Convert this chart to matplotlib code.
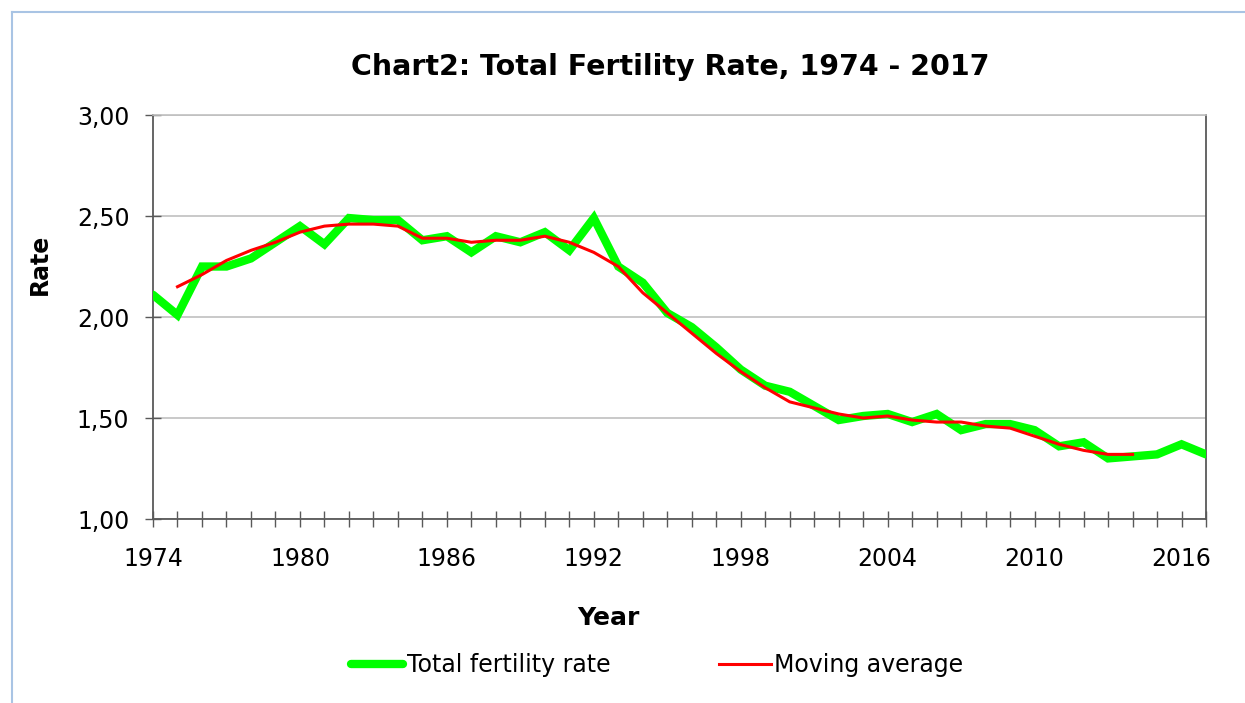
import matplotlib
matplotlib.use("Agg")
import matplotlib.pyplot as plt
from matplotlib.lines import Line2D
from matplotlib.ticker import FuncFormatter, MultipleLocator

# Datos
years = list(range(1974, 2018))
tfr = [2.11, 2.01, 2.25, 2.25, 2.29, 2.37, 2.45, 2.36, 2.49, 2.48,
       2.48, 2.38, 2.40, 2.32, 2.40, 2.37, 2.42, 2.33, 2.49, 2.25,
       2.17, 2.02, 1.95, 1.85, 1.74, 1.66, 1.63, 1.56, 1.49, 1.51,
       1.52, 1.48, 1.52, 1.44, 1.47, 1.47, 1.44, 1.36, 1.38, 1.30,
       1.31, 1.32, 1.37, 1.32]
ma_years = list(range(1975, 2015))
moving_avg = [2.15, 2.21, 2.28, 2.33, 2.37, 2.42, 2.45, 2.46, 2.46, 2.45,
              2.39, 2.39, 2.37, 2.38, 2.38, 2.40, 2.37, 2.32, 2.25, 2.12,
              2.02, 1.92, 1.82, 1.73, 1.65, 1.58, 1.55, 1.52, 1.50, 1.51,
              1.49, 1.48, 1.48, 1.46, 1.45, 1.41, 1.37, 1.34, 1.32, 1.32]
label_years = list(range(1974, 2018, 6))

fig = plt.figure(figsize=(12.45, 7.03), dpi=100)
ax = fig.add_axes([0.1229, 0.2617, 0.9687 - 0.1229, 0.8364 - 0.2617])

ax.plot(years, tfr, color="#00ff00", lw=6, solid_capstyle="round",
        solid_joinstyle="miter", label="Total fertility rate", zorder=3)
ax.plot(ma_years, moving_avg, color="#ff0000", lw=2.2,
        label="Moving average", zorder=4)

ax.set_xlim(1974, 2017)
ax.set_ylim(1.0, 3.0)
ax.yaxis.set_major_locator(MultipleLocator(0.5))
ax.yaxis.set_major_formatter(FuncFormatter(lambda v, p: f"{v:.2f}".replace(".", ",")))
ax.set_xticks(label_years)
ax.set_xticks(years, minor=True)
ax.grid(axis="y", color="#c0c0c0", lw=1.2, zorder=0)
ax.set_axisbelow(True)

for s in ["left", "bottom", "right"]:
    ax.spines[s].set_color("#595959")
    ax.spines[s].set_linewidth(1.3)
ax.spines["top"].set_color("#c0c0c0")
ax.spines["top"].set_linewidth(1.2)

ax.tick_params(axis="y", direction="inout", length=12, width=1, color="#595959",
               labelsize=17, pad=11)
ax.tick_params(axis="x", which="both", direction="inout", length=12, width=1,
               color="#595959", labelsize=17, pad=14)

ax.set_ylabel("Rate", fontsize=17, fontweight="bold")
ax.yaxis.set_label_coords(-0.096, 0.63)
ax.set_xlabel("Year", fontsize=18, fontweight="bold")
ax.xaxis.set_label_coords(0.432, -0.215)
ax.set_title("Chart2: Total Fertility Rate, 1974 - 2017", fontsize=20.5,
             fontweight="bold", pad=29, x=0.491)

fig.legend(loc="center", bbox_to_anchor=(0.528, 1 - 665 / 703), ncol=2,
           frameon=False, fontsize=17, handlelength=2.2, handletextpad=0.15,
           columnspacing=4.6)

# Borde exterior del grafico
fig.add_artist(Line2D([12 / 1245, 12 / 1245], [0, 1 - 12 / 703],
                      color="#a9c4e4", lw=1.5))
fig.add_artist(Line2D([12 / 1245, 1], [1 - 12 / 703, 1 - 12 / 703],
                      color="#a9c4e4", lw=1.5))

fig.savefig("out.png", dpi=100)
